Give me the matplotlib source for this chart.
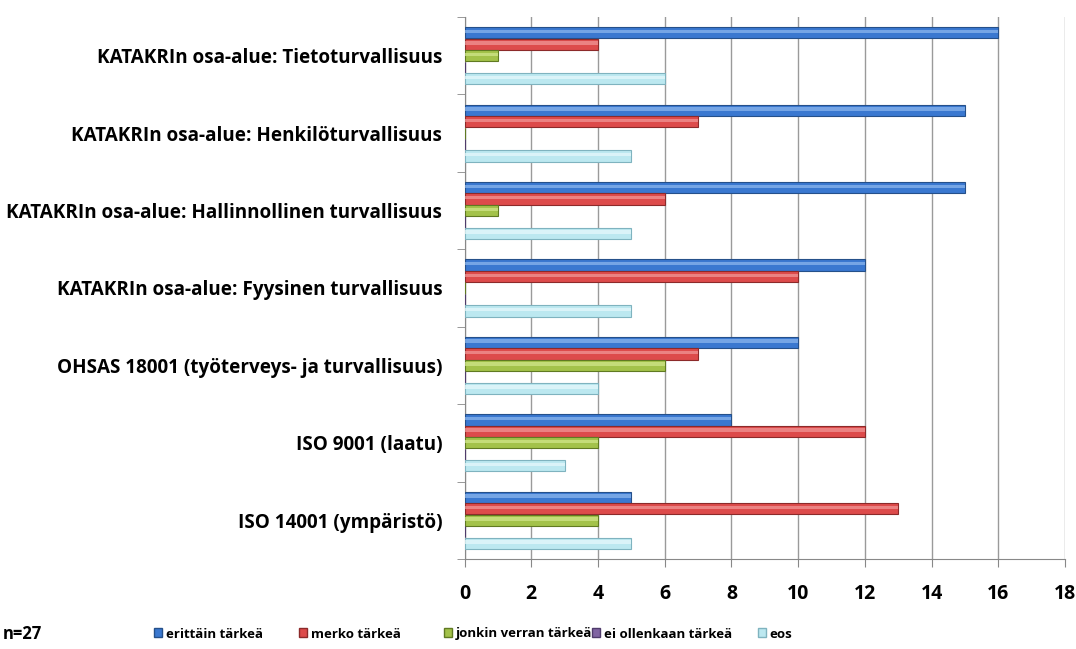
import matplotlib
matplotlib.use("Agg")
import matplotlib.pyplot as plt
import numpy as np
from matplotlib.patches import Patch

categories = [
    "KATAKRIn osa-alue: Tietoturvallisuus",
    "KATAKRIn osa-alue: Henkilöturvallisuus",
    "KATAKRIn osa-alue: Hallinnollinen turvallisuus",
    "KATAKRIn osa-alue: Fyysinen turvallisuus",
    "OHSAS 18001 (työterveys- ja turvallisuus)",
    "ISO 9001 (laatu)",
    "ISO 14001 (ympäristö)",
]
series_names = ["erittäin tärkeä", "merko tärkeä", "jonkin verran tärkeä",
                "ei ollenkaan tärkeä", "eos"]
erittain = [16, 15, 15, 12, 10, 8, 5]
merko = [4, 7, 6, 10, 7, 12, 13]
jonkin = [1, 0, 1, 0, 6, 4, 4]
ei_ollenkaan = [0, 0, 0, 0, 0, 0, 0]
eos = [6, 5, 5, 5, 4, 3, 5]
values = [erittain, merko, jonkin, ei_ollenkaan, eos]
colors = ["#3a78d0", "#dd4b4b", "#a3c24a", "#8064a2", "#bce8f0"]
edges = ["#25508a", "#8c2a2a", "#607a22", "#4f3b6b", "#7fb3bf"]
highlights = ["#8fb9ef", "#f29a9a", "#d3e88e", "#b7a3d0", "#e8f9fc"]

FONT = ["Open Sans", "DejaVu Sans"]

fig = plt.figure(figsize=(10.76, 6.49), dpi=100)
ax = fig.add_axes([464.5 / 1076, 1 - 559 / 649, (1065 - 464.5) / 1076, (559 - 17) / 649])

n = len(categories)
y_centers = np.arange(n)[::-1].astype(float)  # top category at top
slot = 0.148
bh = 0.145
for i, (vals, c, ec, hc) in enumerate(zip(values, colors, edges, highlights)):
    off = (i - 2) * slot
    ypos = y_centers - off
    ax.barh(ypos, vals, height=bh, color=c, edgecolor=ec, linewidth=0.8, zorder=3)
    ax.barh(ypos + bh * 0.12, vals, height=bh * 0.3, color=hc, linewidth=0,
            alpha=0.7, zorder=4)

ax.set_xlim(0, 18)
ax.set_ylim(-0.5, n - 0.5)
ax.set_xticks(np.arange(0, 19, 2))
ax.set_xticklabels([str(v) for v in range(0, 19, 2)], fontsize=14,
                   fontweight="bold", family=FONT)
ax.set_yticks(y_centers)
ax.set_yticklabels(categories, fontsize=13.6, fontweight="bold", family=FONT)
ax.set_yticks(np.arange(-0.5, n, 1.0), minor=True)
ax.tick_params(axis="y", which="major", length=0, pad=16)
ax.tick_params(axis="y", which="minor", length=6, color="#888888")
ax.tick_params(axis="x", length=6, color="#888888", pad=12)
ax.xaxis.grid(True, color="#9a9a9a", linewidth=1.0, zorder=0)
ax.set_axisbelow(True)
for s in ["top", "right"]:
    ax.spines[s].set_visible(False)
ax.spines["left"].set_color("#888888")
ax.spines["bottom"].set_color("#888888")

ly = 1 - 634 / 649
fig.text(3 / 1076, ly, "n=27", fontsize=12, fontweight="bold", family=FONT,
         va="center", ha="left")
legend_x = [154, 299, 444, 592, 758]
for nm, c, ec, lx in zip(series_names, colors, edges, legend_x):
    h = Patch(facecolor=c, edgecolor=ec, label=nm)
    fig.legend(handles=[h], loc="center left", bbox_to_anchor=(lx / 1076, ly),
               frameon=False, borderaxespad=0, borderpad=0,
               prop={"family": FONT, "weight": "bold", "size": 9.5},
               handlelength=0.6, handleheight=0.65, handletextpad=0.3)

fig.savefig("out.png", dpi=100)
